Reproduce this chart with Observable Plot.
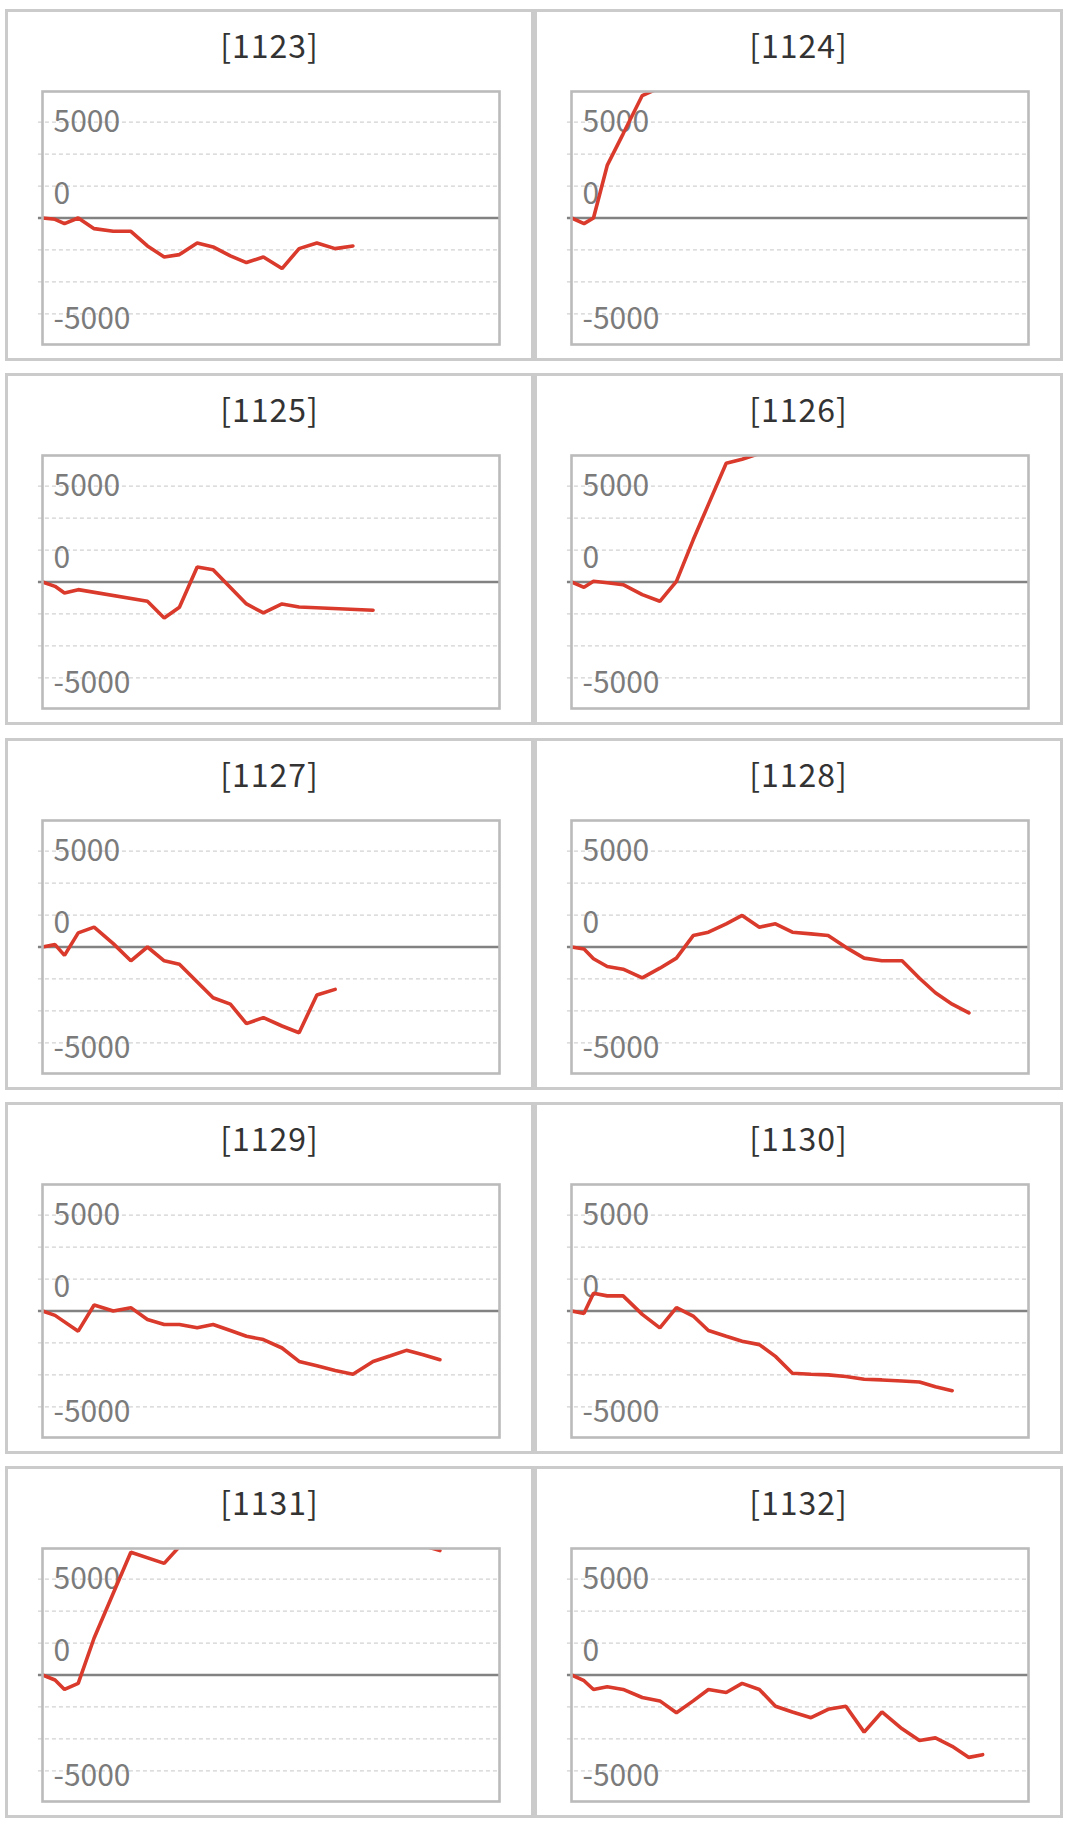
<!DOCTYPE html>
<html><head><meta charset="utf-8">
<script src="https://cdn.jsdelivr.net/npm/d3@7"></script>
<script src="https://cdn.jsdelivr.net/npm/@observablehq/plot@0.6"></script>
<style>
html,body{margin:0;padding:0;background:#fff;}
#root{position:relative;width:1072px;height:1831px;overflow:hidden;}
.box{position:absolute;box-sizing:border-box;width:529px;height:352px;border:3px solid #cbcbcb;background:#fff;}
.title{position:absolute;left:0;right:0;top:11px;text-align:center;font-family:"Noto Sans CJK JP","Noto Sans",sans-serif;font-size:32px;letter-spacing:1px;line-height:42px;color:#333;}
.box svg{position:absolute;left:0;top:0;}
</style></head><body><div id="root"></div>
<script>
// panel titles
const panelIds = ["[1123]","[1124]","[1125]","[1126]","[1127]","[1128]","[1129]","[1130]","[1131]","[1132]"];
// sample times (x)
const slotT = [0,0.74,1.30,2.11,3.05,4.18,5.22,6.20,7.19,8.09,9.14,10.08,11.10,12.05,13.05,14.15,15.16,16.21,17.29,18.34,19.53,20.56,21.50,22.49,23.48,24.29];
// series values (null = no sample)
const s1123 = [0,-69,-295,0,-556,-694,-694,-1458,-2031,-1910,-1302,-1510,-1979,-2326,-2031,-2639,-1597,-1302,-1597,-1458];
const s1124 = [0,-295,0,2743,4392,6389,6800];
const s1125 = [0,-226,-573,-399,null,null,null,-1007,-1875,-1319,781,642,null,-1146,-1614,-1146,-1302,null,null,null,-1476];
const s1126 = [0,-278,35,-35,-139,-660,-1007,35,2200,4050,6198,6406,6700];
const s1127 = [0,123,-439,737,1035,175,-719,0,-719,-895,null,-2649,-2982,-3999,-3684,-4122,-4473,-2508,-2210];
const s1128 = [0,-105,-614,-1017,-1158,-1614,-1105,-579,596,772,1210,1649,1035,1210,772,684,596,-18,-579,-719,-719,-1631,-2386,-2982,-3438];
const s1129 = [0,-228,null,-1052,316,0,175,-439,-702,-702,-877,-702,-1017,-1316,-1491,-1930,-2631,-2859,-3105,-3298,-2631,-2333,-2052,-2280,-2543];
const s1130 = [0,-123,930,789,789,-175,-877,175,-263,-1017,-1316,-1579,-1754,-2368,-3245,-3298,-3333,-3421,-3561,-3596,-3649,-3701,-3947,-4157];
const s1131 = [0,-263,-754,-439,1930,4263,6403,null,5824,6700,7600,null,null,null,null,null,null,null,null,null,null,null,7600,6750,6490];
const s1132 = [0,-298,-754,-614,-754,-1175,-1351,-1965,-1351,-754,-912,-439,-754,-1631,-1930,-2228,-1789,-1631,-2982,-1930,-2807,-3421,-3280,-3719,-4298,-4157];
const seriesList = [s1123,s1124,s1125,s1126,s1127,s1128,s1129,s1130,s1131,s1132];
// axes
const xDomain = [0, 27];
const yDomain = [-6600, 6600];
const gridValues = [5000, 10000/3, 5000/3, -5000/3, -10000/3, -5000];
const tickLabels = ["5000", "0", "-5000"];
const tickLabelAt = [5000, 5000/3, -5000];
const tickLabelDy = [0, 8, 6];

const root = document.getElementById("root");
const FONT = '"Noto Sans CJK JP","Noto Sans",sans-serif';

panelIds.forEach((id, i) => {
  const r = Math.floor(i / 2), c = i % 2;
  const box = document.createElement("div");
  box.className = "box";
  box.style.left = (c === 0 ? 5 : 534) + "px";
  box.style.top = (9 + r * 364.3) + "px";
  const t = document.createElement("div");
  t.className = "title";
  t.textContent = id;
  box.appendChild(t);

  const vals = seriesList[i];
  const rows = vals.map((v, k) => ({t: slotT[k], v})).filter(d => d.v != null);
  const labelMarks = tickLabels.map((lab, k) =>
    Plot.text([lab], {x: () => xDomain[0], y: () => tickLabelAt[k], text: d => d, dx: 11, dy: tickLabelDy[k],
      textAnchor: "start", fontSize: 30, fill: "#7b7b7b"}));

  const svg = Plot.plot({
    width: 523, height: 346,
    marginLeft: 34, marginRight: 32, marginTop: 79, marginBottom: 14,
    x: {domain: xDomain, axis: null},
    y: {domain: yDomain, axis: null},
    style: {background: "transparent", fontFamily: FONT, overflow: "visible"},
    marks: [
      Plot.ruleY(gridValues, {y: d => d, x1: () => xDomain[0] - 0.24, x2: () => xDomain[1], stroke: "#d2d2d2", strokeWidth: 1.3, strokeDasharray: "4,3"}),
      ...labelMarks,
      Plot.ruleY([0], {y: d => d, x1: () => xDomain[0] - 0.24, x2: () => xDomain[1], stroke: "#828282", strokeWidth: 2.6}),
      Plot.line(rows, {x: "t", y: "v", stroke: "#d93a2b", strokeWidth: 3.6, clip: true, strokeLinejoin: "miter"}),
      Plot.frame({stroke: "#bbbbbb", strokeWidth: 2.6})
    ]
  });
  box.appendChild(svg);
  root.appendChild(box);
});
</script></body></html>
